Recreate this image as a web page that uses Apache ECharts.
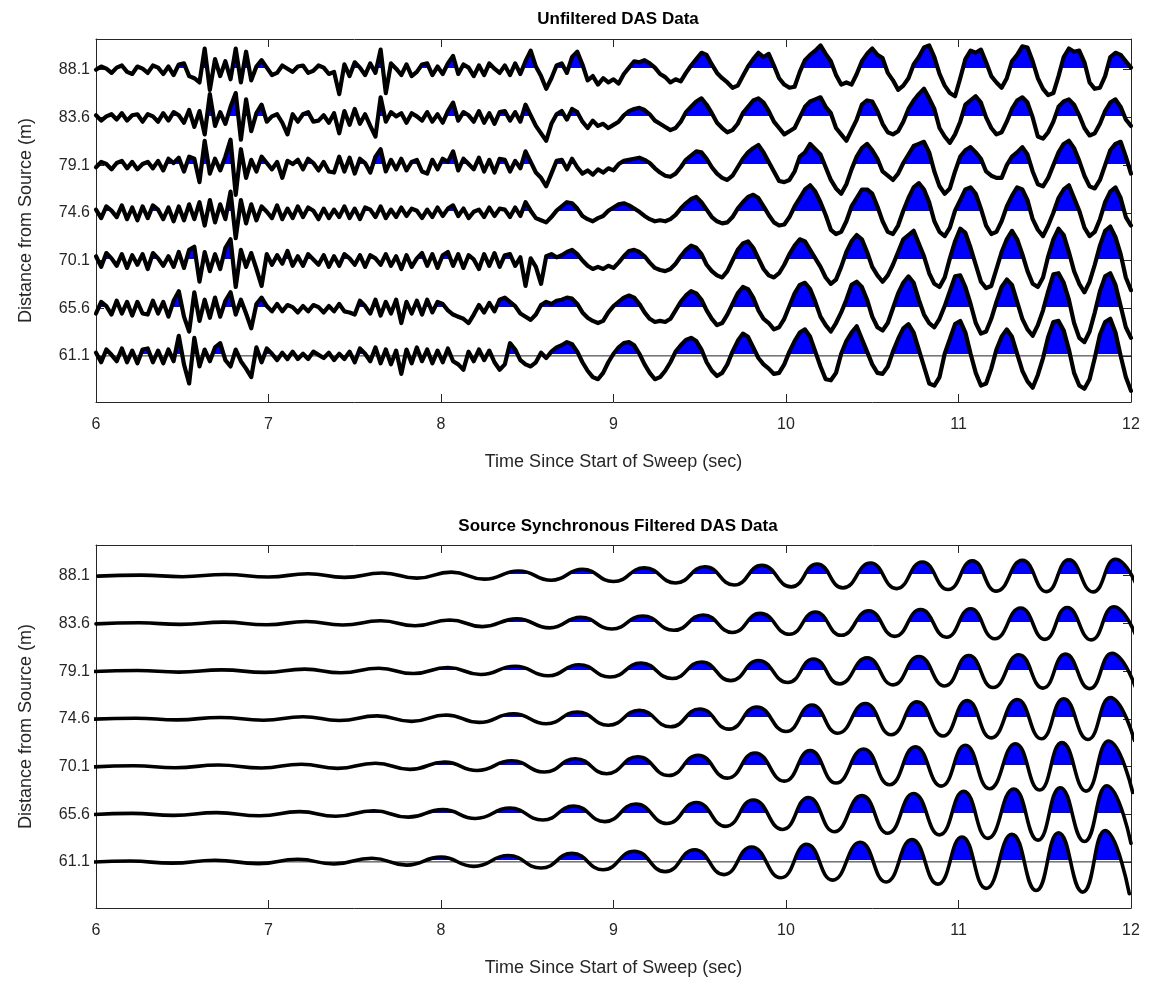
<!DOCTYPE html>
<html><head><meta charset="utf-8">
<script src="https://cdn.jsdelivr.net/npm/echarts@6/dist/echarts.min.js"></script>
<style>html,body{margin:0;padding:0;background:#fff;}#chart{width:1149px;height:983px;}</style>
</head><body><div id="chart"></div>
<script>
// ---------- DATA ----------
const distances = [88.1, 83.6, 79.1, 74.6, 70.1, 65.6, 61.1];
const timeTicks = [6, 7, 8, 9, 10, 11, 12];

// Unfiltered traces: deflection (decimetres, up = positive) sampled every 0.03 s from 6.00 s
const rawStart = 6.0, rawStep = 0.03;
const raw88_1 = [0,3,1,-3,2,4,-2,-4,3,1, -3,4,2,-4,3,-5,5,6,-6,-8, -12,20,-19,10,-6,8,-9,20,-12,17, -10,3,9,2,-5,-3,4,1,-2,3,
 4,-3,-1,4,2,-4,-2,-23,5,-6, 7,2,-5,6,-3,19,-22,6,1,-5, 5,-6,-2,5,6,-5,3,-4,6,13, -4,5,2,-6,4,-5,6,1,-3,4,
 -5,6,-4,8,18,3,-6,-18,-8,4, 6,-3,12,17,5,-10,-6,-14,-8,-12, -9,-13,-4,2,8,7,9,6,2,-4, -7,-12,-9,-11,-3,4,10,16,14,5,
 -3,-8,-12,-17,-15,-6,3,10,16,12, 15,4,-8,-14,-17,-16,-2,9,14,18, 23,15,8,-5,-14,-12,-14,-4,8,15, 20,14,11,-3,-10,-19,-15,-8,5,12,
 21,23,12,-4,-15,-22,-25,-8,10,18, 16,19,7,-6,-12,-17,-8,8,14,22, 21,8,-8,-18,-24,-22,-6,12,20,17, 18,7,-12,-18,-17,-6,12,16,14,8, 2];
const raw83_6 = [2,-3,1,3,-2,4,-3,2,3,-4, 3,1,-4,4,-3,5,2,-5,7,-9, 6,-16,22,-8,5,-6,10,23,-21,17, -13,4,12,-4,1,3,-5,-16,3,-4,
 3,5,-4,-3,2,-5,4,-15,6,-7, 8,-6,3,-8,-18,19,-4,5,1,4, -5,4,1,-3,5,-4,3,-5,6,14, -3,5,2,-4,6,-5,4,-6,5,6,
 -3,5,-4,12,2,-8,-15,-22,-6,3, 6,-2,8,5,-4,-10,-3,-8,-6,-10, -7,-4,2,6,8,9,7,3,-3,-6, -9,-12,-10,-4,5,10,15,18,12,4,
 -5,-10,-14,-12,-6,4,10,16,18,14, 6,-4,-10,-16,-13,-10,0,10,15,17, 19,10,4,-10,-16,-22,-12,-2,12,16, 15,6,-6,-14,-16,-13,-4,8,16,22,
 27,18,8,-10,-18,-24,-16,-4,12,16, 20,14,0,-10,-16,-14,-4,8,16,19, 14,0,-18,-20,-14,-4,10,15,17,12, 2,-10,-17,-15,-6,6,14,17,10,-2, -8];
const raw79_1 = [-2,3,1,-4,2,4,-3,3,-4,1, 3,-3,4,-5,6,2,7,-6,8,6, -16,23,-8,6,-5,8,24,-28,15,-12, 5,-6,8,2,-4,3,-12,4,1,5,
 -4,6,2,-5,3,-6,-7,8,-6,7, -8,6,2,-7,8,15,-6,5,-4,6, -5,3,5,-6,-8,5,-4,6,3,13, -5,6,1,-4,7,-6,5,-7,6,5,
 -6,4,-3,13,3,-7,-12,-20,-8,4, 5,-4,6,-2,-8,-5,-9,-4,-7,-3, -5,1,4,5,6,7,5,2,-3,-7, -10,-11,-8,-2,5,9,13,12,6,-2,
 -8,-12,-14,-10,-2,6,12,16,19,12, 3,-6,-15,-16,-14,-6,8,12,20,15, 10,-2,-14,-22,-27,-18,-4,8,16,20, 14,6,-6,-10,-14,-8,2,10,18,20,
 22,12,-6,-20,-27,-22,-6,8,14,17, 12,6,-6,-10,-12,-12,0,8,12,17, 10,-6,-18,-20,-12,0,12,20,23,16, 4,-10,-20,-22,-14,0,14,20,22,8, -8];
const raw74_6 = [3,-5,6,2,-4,7,-6,5,-7,6, -5,7,3,-6,5,-8,6,-7,8,-6, 10,-12,12,-9,8,-6,20,-24,12,-10, 8,-7,6,1,-5,7,-6,4,-5,6,
 -4,5,2,-6,4,-5,3,-4,6,-5, 4,-6,5,3,-4,6,-5,3,-4,5, -3,4,2,-5,3,-4,5,-3,4,7, -3,4,-5,1,3,-4,5,-3,4,3,
 -4,5,-3,10,2,-5,-7,-9,-4,2, 6,10,9,4,-3,-6,-8,-5,-3,2, 5,8,9,7,4,1,-3,-6,-8,-7, -8,-6,-2,4,9,13,15,10,3,-4,
 -8,-10,-9,-4,4,10,15,17,14,6, -2,-9,-12,-11,-4,6,14,22,26,20, 10,-2,-16,-20,-18,-8,6,14,22,22, 18,6,-8,-18,-20,-12,2,14,24,28,
 22,10,-8,-18,-22,-14,2,12,22,24, 18,4,-12,-20,-18,-8,6,16,24,22, 12,-6,-16,-22,-12,0,14,22,26,14, 2,-14,-22,-18,-6,10,20,24,14,-4, -12];
const raw70_1 = [4,-6,7,2,-5,6,-7,5,-4,6, -8,7,2,-5,4,-6,8,-7,10,13, -20,8,-10,6,-8,12,20,-25,10,-6, 7,-8,-24,6,-4,5,-3,9,-5,4,
 -5,6,1,-4,5,-6,4,-5,6,2, -4,5,-6,5,2,-4,6,-5,4,-8, 5,-6,2,7,-5,6,-7,5,8,-5, 6,-7,5,1,-8,6,-5,7,-6,5,
 6,-5,3,-24,2,-6,-22,4,6,3, 5,8,10,6,0,-5,-8,-6,-8,-5, -7,-2,4,9,10,8,4,-2,-7,-9, -10,-8,-3,4,10,14,12,6,-4,-10,
 -14,-16,-10,0,10,16,18,12,2,-8, -14,-16,-12,-4,6,14,20,18,10,2, -6,-16,-22,-18,-6,8,18,24,20,8, -6,-14,-20,-14,-4,8,20,24,28,16,
 4,-12,-22,-25,-16,2,18,30,26,12, -4,-20,-26,-24,-8,8,20,28,20,6, -10,-22,-25,-16,4,20,30,24,8,-10, -22,-30,-20,-4,14,28,32,22,6,-16, -28];
const raw65_6 = [-5,6,2,-6,7,-5,6,-7,6,-5, -6,7,-5,6,-8,7,16,-8,-22,15, -12,8,-9,10,-8,7,15,-6,8,-5, -19,4,10,2,-3,4,-3,3,1,-4,
 2,-3,3,1,-4,2,-3,4,-3,-4, -6,7,2,-5,8,-7,6,-5,8,-14, 6,-5,7,-6,8,-4,6,4,-2,-6, -8,-10,-14,-6,3,-4,5,-3,8,10,
 6,2,-5,-8,-11,-6,3,6,4,7, 8,10,9,4,-4,-9,-12,-14,-12,-4, 2,6,10,12,10,4,-4,-10,-13,-12, -13,-10,-2,6,12,16,14,8,-2,-10,
 -16,-14,-6,4,14,20,18,10,-2,-10, -14,-20,-18,-10,2,14,22,24,18,6, -8,-16,-22,-14,-4,8,22,25,20,8, -8,-18,-21,-14,0,14,24,30,24,8,
 -6,-14,-18,-10,2,16,30,31,20,4, -14,-24,-22,-10,6,20,27,22,6,-10, -20,-26,-16,-2,16,32,33,24,8,-14, -28,-32,-22,-4,16,30,33,22,2,-18, -28];
const raw61_1 = [3,-6,6,1,-5,7,-6,5,-7,6, 7,-6,5,-7,6,-5,19,-8,-26,17, -10,6,-5,8,12,-4,-10,6,-5,-12, -20,8,-6,7,2,-4,3,-3,4,-3,
 2,-3,4,1,-2,3,-4,2,-3,4, -6,7,2,-5,8,-7,6,-8,5,-17, 6,-7,8,-5,6,-7,5,-6,7,-5, -8,-13,4,-5,6,-4,5,-6,-13,-8,
 12,6,-4,-8,-10,-6,3,-2,4,8, 10,13,11,4,-6,-14,-20,-22,-16,-6, 2,8,12,13,10,2,-8,-16,-22,-20, -14,-6,4,10,15,17,14,6,-6,-14,
 -19,-16,-8,4,14,21,18,8,-2,-8, -12,-17,-16,-8,4,14,22,25,18,4, -10,-22,-23,-16,2,14,22,28,16,4, -8,-16,-17,-10,4,16,26,30,22,6,
 -10,-26,-28,-20,2,16,30,33,22,2, -16,-28,-26,-12,6,18,25,18,2,-14, -24,-30,-18,-2,18,32,33,24,6,-16, -28,-31,-22,-2,20,32,35,22,0,-20, -33];

// Filtered traces: extrema times (s) of the 61.1 m trace, per-trace moveout (s), extrema deflections (m)
const sweepExtremaTimes = [5.95,6.20,6.44,6.69,6.94,7.17,7.38,7.60,7.80,8.00,8.19,8.39,8.58,8.76,8.94,9.12,9.30,9.47,9.64,9.80,9.97,
 10.12,10.27,10.43,10.58,10.73,10.88,11.02,11.16,11.31,11.45,11.58,11.72,11.85,11.99];
const moveout = [0.06, 0.05, 0.04, 0.03, 0.02, 0.01, 0];
const filt88_1 = [-0.04,0.06,-0.09,0.12,-0.12,0.19,-0.15,0.26,-0.23,0.34,-0.32,0.45,-0.43,0.6,-0.55,0.74,-0.68,0.85,-0.88,0.98,-1.05,1.1,-1.15,1.2,-1.22,1.3,-1.3,1.4,-1.45,1.45,-1.5,1.5,-1.52,1.55,-1.58];
const filt83_6 = [-0.04,0.06,-0.09,0.12,-0.12,0.18,-0.15,0.25,-0.22,0.33,-0.3,0.43,-0.42,0.57,-0.52,0.7,-0.65,0.8,-0.85,0.95,-1.02,1.08,-1.12,1.18,-1.22,1.3,-1.3,1.38,-1.45,1.45,-1.5,1.5,-1.55,1.58,-1.6];
const filt79_1 = [-0.04,0.06,-0.09,0.12,-0.12,0.19,-0.15,0.27,-0.23,0.34,-0.32,0.46,-0.44,0.6,-0.56,0.75,-0.7,0.86,-0.9,1.0,-1.08,1.15,-1.2,1.25,-1.3,1.38,-1.4,1.48,-1.55,1.55,-1.6,1.6,-1.65,1.68,-1.7];
const filt74_6 = [-0.04,0.06,-0.1,0.13,-0.13,0.2,-0.16,0.28,-0.24,0.36,-0.34,0.48,-0.46,0.64,-0.6,0.8,-0.75,0.93,-0.97,1.12,-1.2,1.3,-1.36,1.45,-1.5,1.6,-1.62,1.72,-1.8,1.82,-1.88,1.9,-1.95,2.0,-2.05];
const filt70_1 = [-0.05,0.07,-0.11,0.14,-0.14,0.22,-0.18,0.31,-0.27,0.41,-0.38,0.54,-0.52,0.73,-0.68,0.92,-0.85,1.06,-1.1,1.28,-1.38,1.5,-1.56,1.65,-1.72,1.85,-1.85,2.0,-2.1,2.15,-2.22,2.25,-2.32,2.4,-2.45];
const filt65_6 = [-0.05,0.08,-0.11,0.15,-0.15,0.24,-0.19,0.33,-0.28,0.43,-0.4,0.57,-0.55,0.76,-0.7,0.96,-0.88,1.1,-1.15,1.34,-1.44,1.58,-1.65,1.75,-1.8,1.95,-1.95,2.15,-2.28,2.38,-2.45,2.5,-2.58,2.68,-2.75];
const filt61_1 = [-0.05,0.08,-0.12,0.16,-0.16,0.25,-0.2,0.35,-0.3,0.45,-0.42,0.6,-0.58,0.8,-0.74,1.0,-0.92,1.15,-1.2,1.4,-1.5,1.65,-1.72,1.85,-1.9,2.1,-2.1,2.35,-2.5,2.6,-2.7,2.75,-2.85,2.95,-3.0];

const rawTraces = [raw88_1, raw83_6, raw79_1, raw74_6, raw70_1, raw65_6, raw61_1];
const filtTraces = [filt88_1, filt83_6, filt79_1, filt74_6, filt70_1, filt65_6, filt61_1];

// ---------- STYLE / LAYOUT ----------
const FONT = 'Liberation Sans, Arial, Helvetica, sans-serif';
const AX = '#262626';
const Y_MIN = 56.75, Y_MAX = 91.0;
const grids = [
  { left: 96, right: 18, top: 39, height: 363 },
  { left: 96, right: 18, top: 545, height: 363 }
];

const xAxes = [], yAxes = [], series = [], fillRefs = [];
grids.forEach((g, gi) => {
  xAxes.push({
    type: 'value', gridIndex: gi, min: 6, max: 12, interval: 1, position: 'bottom',
    axisLine: { show: true, onZero: false, lineStyle: { color: AX, width: 1 } },
    axisTick: { show: true, inside: true, length: 8, lineStyle: { color: AX } },
    axisLabel: { show: true, fontSize: 16, color: AX, fontFamily: FONT, margin: 15,
      customValues: timeTicks },
    splitLine: { show: false },
    name: 'Time Since Start of Sweep (sec)', nameLocation: 'middle', nameGap: 51,
    nameTextStyle: { fontSize: 18, color: AX, fontFamily: FONT }
  });
  xAxes.push({
    type: 'value', gridIndex: gi, min: 6, max: 12, interval: 1, position: 'top',
    axisLine: { show: true, onZero: false, lineStyle: { color: AX, width: 1 } },
    axisTick: { show: true, inside: true, length: 8, lineStyle: { color: AX } },
    axisLabel: { show: false }, splitLine: { show: false }
  });
  yAxes.push({
    type: 'value', gridIndex: gi, min: Y_MIN, max: Y_MAX, position: 'left',
    axisLine: { show: true, onZero: false, lineStyle: { color: AX, width: 1 } },
    axisTick: { show: true, inside: true, length: 8, lineStyle: { color: AX }, customValues: distances },
    axisLabel: { show: true, fontSize: 16, color: AX, fontFamily: FONT, margin: 6,
      customValues: distances, formatter: v => Number(v).toFixed(1) },
    splitLine: { show: false },
    name: 'Distance from Source (m)', nameLocation: 'middle', nameGap: 61, nameRotate: 90,
    nameTextStyle: { fontSize: 18, color: AX, fontFamily: FONT }
  });
  yAxes.push({
    type: 'value', gridIndex: gi, min: Y_MIN, max: Y_MAX, position: 'right',
    axisLine: { show: true, onZero: false, lineStyle: { color: AX, width: 1 } },
    axisTick: { show: true, inside: true, length: 8, lineStyle: { color: AX }, customValues: distances },
    axisLabel: { show: false }, splitLine: { show: false }
  });
});

function addTrace(gi, base, data, smooth) {
  fillRefs.push({ index: series.length, gi: gi, base: base });
  series.push({
    type: 'line', xAxisIndex: gi * 2, yAxisIndex: gi * 2, data: data, smooth: smooth,
    symbol: 'none', silent: true, z: 2, clip: true,
    lineStyle: { width: 0, color: 'rgba(0,0,0,0)' },
    areaStyle: { origin: base, opacity: 1, color: 'rgba(0,0,0,0)' }
  });
}
function addLine(gi, data, smooth, width) {
  series.push({
    type: 'line', xAxisIndex: gi * 2, yAxisIndex: gi * 2, data: data, smooth: smooth,
    symbol: 'none', silent: true, z: 4, clip: true,
    lineStyle: { color: '#000', width: width, join: 'round', cap: 'round' }
  });
}

const rawData = rawTraces.map((vals, i) =>
  vals.map((v, k) => [rawStart + k * rawStep, distances[i] + v / 10]));
const filtData = filtTraces.map((vals, i) =>
  vals.map((v, k) => [sweepExtremaTimes[k] + moveout[i], distances[i] + v]));

[rawData, filtData].forEach((set, gi) => {
  const smooth = gi === 1 ? 0.5 : false;
  set.forEach((d, i) => addTrace(gi, distances[i], d, smooth));
  series.push({
    type: 'line', xAxisIndex: gi * 2, yAxisIndex: gi * 2,
    data: [[6, distances[6]], [12, distances[6]]], symbol: 'none', silent: true, z: 3,
    lineStyle: { color: '#262626', width: 1 }
  });
  set.forEach((d, i) => addLine(gi, d, smooth, gi === 0 ? 4.2 : 3.6));
});

const chart = echarts.init(document.getElementById('chart'), null, { renderer: 'canvas' });
chart.setOption({
  animation: false,
  backgroundColor: '#ffffff',
  title: [
    { text: 'Unfiltered DAS Data', left: 613, top: 6, textAlign: 'center',
      textStyle: { fontSize: 17, fontWeight: 'bold', color: '#000', fontFamily: FONT } },
    { text: 'Source Synchronous Filtered DAS Data', left: 613, top: 513, textAlign: 'center',
      textStyle: { fontSize: 17, fontWeight: 'bold', color: '#000', fontFamily: FONT } }
  ],
  grid: grids,
  xAxis: xAxes,
  yAxis: yAxes,
  series: series
});

// Fill only the positive lobes: hard-edged vertical gradient ending just above each baseline pixel
const HALF = 120, GAP = 1.6;
fillRefs.forEach(f => {
  const pb = chart.convertToPixel({ gridIndex: f.gi }, [6, f.base])[1];
  const cut = (HALF - GAP) / (2 * HALF);
  series[f.index].areaStyle.color = new echarts.graphic.LinearGradient(0, pb - HALF, 0, pb + HALF, [
    { offset: 0, color: '#0000ff' },
    { offset: cut, color: '#0000ff' },
    { offset: cut, color: 'rgba(255,255,255,0)' },
    { offset: 1, color: 'rgba(255,255,255,0)' }
  ], true);
});
chart.setOption({ series: series });
</script></body></html>
